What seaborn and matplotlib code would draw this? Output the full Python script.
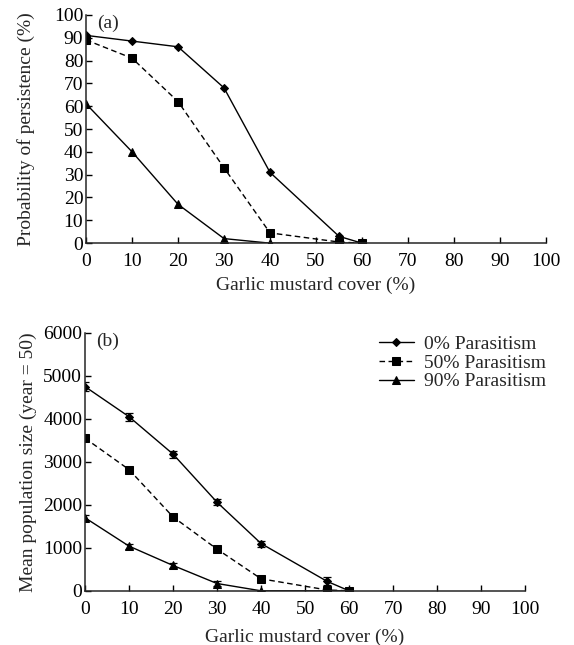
import numpy as np
import pandas as pd
import matplotlib
matplotlib.use("Agg")
import matplotlib.pyplot as plt
import seaborn as sns

# data
cover = [0, 10, 20, 30, 40, 55, 60]
series = ["0% Parasitism", "50% Parasitism", "90% Parasitism"]

# (a) probability of persistence (%)
persist_0 = [91, 88.5, 86, 68, 31, 3, 0]
persist_50 = [89, 81, 62, 33, 4.5, 0.5, 0]
persist_90 = [61, 40, 17, 2, 0, 0, 0]

# (b) mean population size at year 50, with error bars
pop_0 = [4750, 4050, 3180, 2060, 1100, 220, 0]
pop_0_err = [100, 90, 80, 70, 70, 90, 0]
pop_50 = [3550, 2820, 1720, 970, 280, 20, 0]
pop_50_err = [70, 60, 50, 50, 40, 30, 0]
pop_90 = [1700, 1040, 590, 170, 0, 0, 0]
pop_90_err = [70, 60, 60, 60, 0, 0, 0]

sns.set_theme(style="ticks")
plt.rcParams['font.family'] = ['Liberation Serif', 'DejaVu Serif']

markers = {series[0]: "D", series[1]: "s", series[2]: "^"}
msizes = {series[0]: 4.2, series[1]: 5.2, series[2]: 6}

df_a = pd.DataFrame({
    "cover": cover * 3,
    "value": persist_0 + persist_50 + persist_90,
    "series": np.repeat(series, len(cover)),
})
df_b = pd.DataFrame({
    "cover": cover * 3,
    "value": pop_0 + pop_50 + pop_90,
    "err": pop_0_err + pop_50_err + pop_90_err,
    "series": np.repeat(series, len(cover)),
})

fig = plt.figure(figsize=(5.74, 6.45), dpi=100)
ax_a = fig.add_axes([0.150, 0.623, 0.801, 0.354])
ax_b = fig.add_axes([0.148, 0.084, 0.767, 0.400])

fs = 14

def draw(ax, df, with_err=False):
    for s in series:
        d = df[df["series"] == s]
        if with_err:
            ax.errorbar(d["cover"], d["value"], yerr=d["err"], fmt="none",
                        ecolor="black", elinewidth=0.9, capsize=3, capthick=0.9)
        sns.lineplot(data=d, x="cover", y="value", ax=ax, color="black",
                     marker=markers[s], markersize=msizes[s], markeredgecolor="black",
                     linewidth=1.0, label=s)
        if s == series[1]:
            ax.lines[-1].set_dashes((4, 2.5))

draw(ax_a, df_a)
draw(ax_b, df_b, with_err=True)

for ax in (ax_a, ax_b):
    ax.set_xlim(0, 100)
    ax.set_xticks(range(0, 101, 10))
    ax.tick_params(direction="in", length=4, width=1, labelsize=fs,
                   colors="black")
    ax.tick_params(axis="y", pad=2)
    ax.tick_params(axis="x", pad=7.3)
    for sp in ("top", "right"):
        ax.spines[sp].set_visible(False)
    for sp in ("left", "bottom"):
        ax.spines[sp].set_linewidth(1.1)

ax_a.set_xlabel("Garlic mustard cover (%)", fontsize=fs, labelpad=4.5)
ax_b.set_xlabel("Garlic mustard cover (%)", fontsize=fs, labelpad=7.5)

ax_a.set_ylim(0, 100)
ax_a.set_yticks(range(0, 101, 10))
ax_a.set_ylabel("Probability of persistence (%)", fontsize=fs, labelpad=14)
ax_a.get_legend().remove()
ax_a.text(2.5, 100, "(a)", fontsize=fs, va="top", ha="left")

ax_b.set_ylim(0, 6000)
ax_b.set_yticks(range(0, 6001, 1000))
ax_b.set_ylabel("Mean population size (year = 50)", fontsize=fs, labelpad=4)
ax_b.text(2.5, 6000, "(b)", fontsize=fs, va="top", ha="left")
leg = ax_b.legend(loc="upper left", bbox_to_anchor=(0.65, 1.022), frameon=False,
                  fontsize=fs, handlelength=1.8, handletextpad=0.5,
                  labelspacing=0.07, borderaxespad=0)

fig.savefig("out.png", dpi=100)
